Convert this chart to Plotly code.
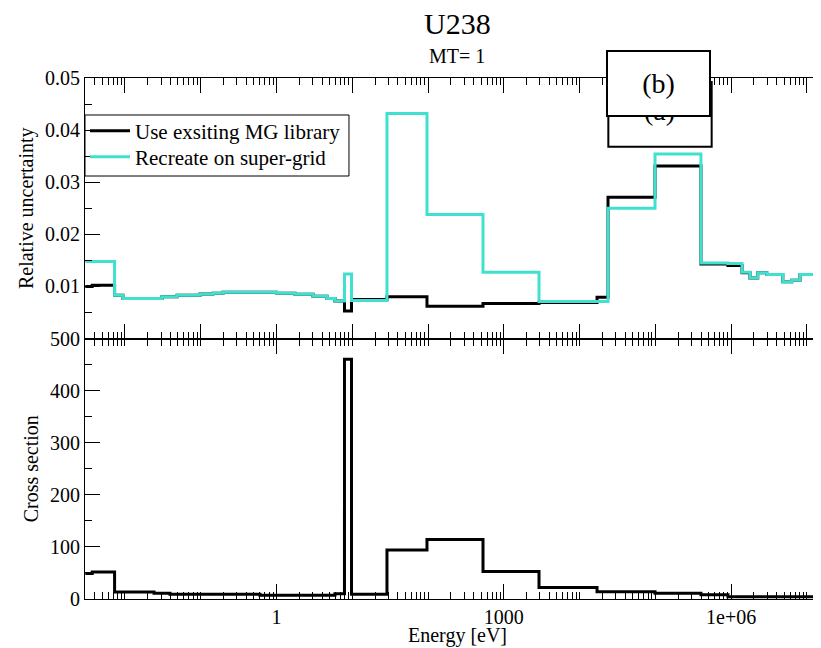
import plotly.graph_objects as go

# ---------------- data ----------------
# energy group boundaries [eV]
energy_bounds = [0.003, 0.0037, 0.0073, 0.0094, 0.0242, 0.0308, 0.0393, 0.0487, 0.098,
                 0.145, 0.197, 0.605, 1.0, 1.75, 3.03, 4.64, 5.91, 7.89, 9.77, 28.7,
                 96.8, 531.0, 2911.0, 16980.0, 23700.0, 98900.0, 3.99e5, 9.07e5, 1.39e6,
                 1.77e6, 2.24e6, 2.95e6, 4.8e6, 6.3e6, 8.1e6, 2.0e7]

# relative uncertainty, recreated on super-grid
unc_supergrid = [0.0148, 0.0148, 0.0083, 0.0077, 0.0077, 0.0080, 0.0080, 0.0083, 0.00855,
                 0.0087, 0.0089, 0.0089, 0.0087, 0.0085, 0.0081, 0.0077, 0.0072, 0.0124,
                 0.0073, 0.0432, 0.0238, 0.0127, 0.0071, 0.0071, 0.0250, 0.0354, 0.0145,
                 0.0144, 0.0127, 0.0116, 0.0126, 0.0123, 0.0109, 0.0112, 0.0123]

# relative uncertainty, existing MG library
unc_existing = [0.0100, 0.0102, 0.0083, 0.0077, 0.0077, 0.0080, 0.0080, 0.0083, 0.00855,
                0.0087, 0.0089, 0.0089, 0.0087, 0.0085, 0.0081, 0.0077, 0.0072, 0.0053,
                0.0075, 0.0080, 0.0062, 0.0067, 0.0069, 0.0079, 0.0271, 0.0331, 0.0143,
                0.0140, 0.0126, 0.0116, 0.0126, 0.0123, 0.0109, 0.0112, 0.0123]

# cross section
cross_section = [49, 52, 13.5, 13.5, 11, 11, 9, 9, 9, 9, 9, 7, 7, 7, 7, 7, 10, 460, 9, 94,
                 114, 53, 22, 14, 14, 11, 8, 4.5, 4.5, 4.5, 4.5, 4.5, 4.5, 4.5, 4.5]

x_major_vals = [1, 1000, 1e6]
x_major_text = ["1", "1000", "1e+06"]
unc_tick_vals = [0, 0.01, 0.02, 0.03, 0.04, 0.05]
unc_tick_text = ["", "0.01", "0.02", "0.03", "0.04", "0.05"]
xs_tick_vals = [0, 100, 200, 300, 400, 500]

title_text = "U238"
subtitle_text = "MT= 1"
x_title = "Energy [eV]"
series_names = ["Use exsiting MG library", "Recreate on super-grid"]

# ---------------- figure ----------------
FONT = "Liberation Serif"
CYAN = "#40E0D0"

decades = list(range(-3, 8))
minor_vals = [m * 10.0 ** d for d in decades for m in range(1, 10)]
decade_vals = [10.0 ** d for d in decades]

def step_y(vals):
    return list(vals) + [vals[-1]]

fig = go.Figure()
fig.add_trace(go.Scatter(x=energy_bounds, y=step_y(unc_existing), mode="lines",
                         line=dict(color="black", width=3, shape="hv"),
                         name=series_names[0], xaxis="x2", yaxis="y2", legend="legend"))
fig.add_trace(go.Scatter(x=energy_bounds, y=step_y(unc_supergrid), mode="lines",
                         line=dict(color=CYAN, width=3, shape="hv"),
                         name=series_names[1], xaxis="x2", yaxis="y2", legend="legend2"))
fig.add_trace(go.Scatter(x=energy_bounds, y=step_y(cross_section), mode="lines",
                         line=dict(color="black", width=3, shape="hv"),
                         showlegend=False, xaxis="x", yaxis="y"))

xrange = [-2.527, 7.291]
common_ax = dict(showline=True, linecolor="black", linewidth=1, mirror="ticks",
                 ticks="inside", tickcolor="black", tickwidth=1, ticklen=15,
                 showgrid=False, zeroline=False,
                 tickfont=dict(family=FONT, size=20, color="black"))

legend_common = dict(x=0, xanchor="left", yanchor="middle",
                     bgcolor="rgba(0,0,0,0)", borderwidth=0,
                     font=dict(family=FONT, size=21, color="black"),
                     itemwidth=40)

fig.update_layout(
    width=821, height=648,
    margin=dict(l=77, r=0, t=70, b=57),
    paper_bgcolor="white", plot_bgcolor="white",
    font=dict(family=FONT, size=20, color="black"),
    showlegend=True,
    legend=dict(legend_common, y=0.8983),
    legend2=dict(legend_common, y=0.8484),
    shapes=[
        # legend frame
        dict(type="rect", xref="paper", yref="paper", x0=0, x1=0.3548, y0=0.8119, y1=0.929,
             line=dict(color="black", width=1), fillcolor="white", layer="below"),
        # (a) box, partly hidden behind (b)
        dict(type="rect", xref="paper", yref="paper", x0=0.7034, x1=0.8423, y0=0.8681, y1=0.9923,
             line=dict(color="black", width=2), fillcolor="white", layer="above"),
    ],
    xaxis=dict(common_ax, type="log", range=xrange, domain=[0, 1], anchor="y",
               tickmode="array", tickvals=x_major_vals, ticktext=x_major_text,
               minor=dict(tickmode="array", tickvals=minor_vals, ticklen=7,
                          ticks="inside", tickcolor="black")),
    yaxis=dict(common_ax, range=[0, 500], domain=[0, 0.5], anchor="x",
               tickmode="array", tickvals=xs_tick_vals,
               minor=dict(dtick=50, ticklen=7, ticks="inside", tickcolor="black"),
               title=dict(text="Cross section", font=dict(family=FONT, size=20), standoff=6)),
    xaxis2=dict(common_ax, type="log", range=xrange, domain=[0, 1], anchor="y2",
                matches="x", showticklabels=False,
                tickmode="array", tickvals=decade_vals,
                minor=dict(tickmode="array", tickvals=minor_vals, ticklen=7,
                           ticks="inside", tickcolor="black")),
    yaxis2=dict(common_ax, range=[0, 0.05], domain=[0.5, 1], anchor="x2",
                tickmode="array", tickvals=unc_tick_vals, ticktext=unc_tick_text,
                minor=dict(dtick=0.005, ticklen=7, ticks="inside", tickcolor="black"),
                title=dict(text="Relative uncertainty", font=dict(family=FONT, size=20), standoff=6)),
    annotations=[
        dict(text=title_text, xref="paper", yref="paper", x=0.5, y=1.1055,
             xanchor="center", yanchor="middle", showarrow=False,
             font=dict(family=FONT, size=30, color="black")),
        dict(text=subtitle_text, xref="paper", yref="paper", x=0.5, y=1.042,
             xanchor="center", yanchor="middle", showarrow=False,
             font=dict(family=FONT, size=20, color="black")),
        dict(text=x_title, xref="paper", yref="paper", x=0.5, y=-0.071,
             xanchor="center", yanchor="middle", showarrow=False,
             font=dict(family=FONT, size=20, color="black")),
        dict(text="(a)", xref="paper", yref="paper", x=0.7728, y=0.9385,
             xanchor="center", yanchor="middle", showarrow=False,
             font=dict(family=FONT, size=28, color="black")),
        dict(text="(b)", xref="paper", yref="paper", x=0.7706, y=0.9898,
             xanchor="center", yanchor="middle", showarrow=False,
             width=101, height=63, borderpad=0, borderwidth=2,
             bordercolor="black", bgcolor="white",
             font=dict(family=FONT, size=28, color="black")),
    ],
)

fig.write_html("out.html")
